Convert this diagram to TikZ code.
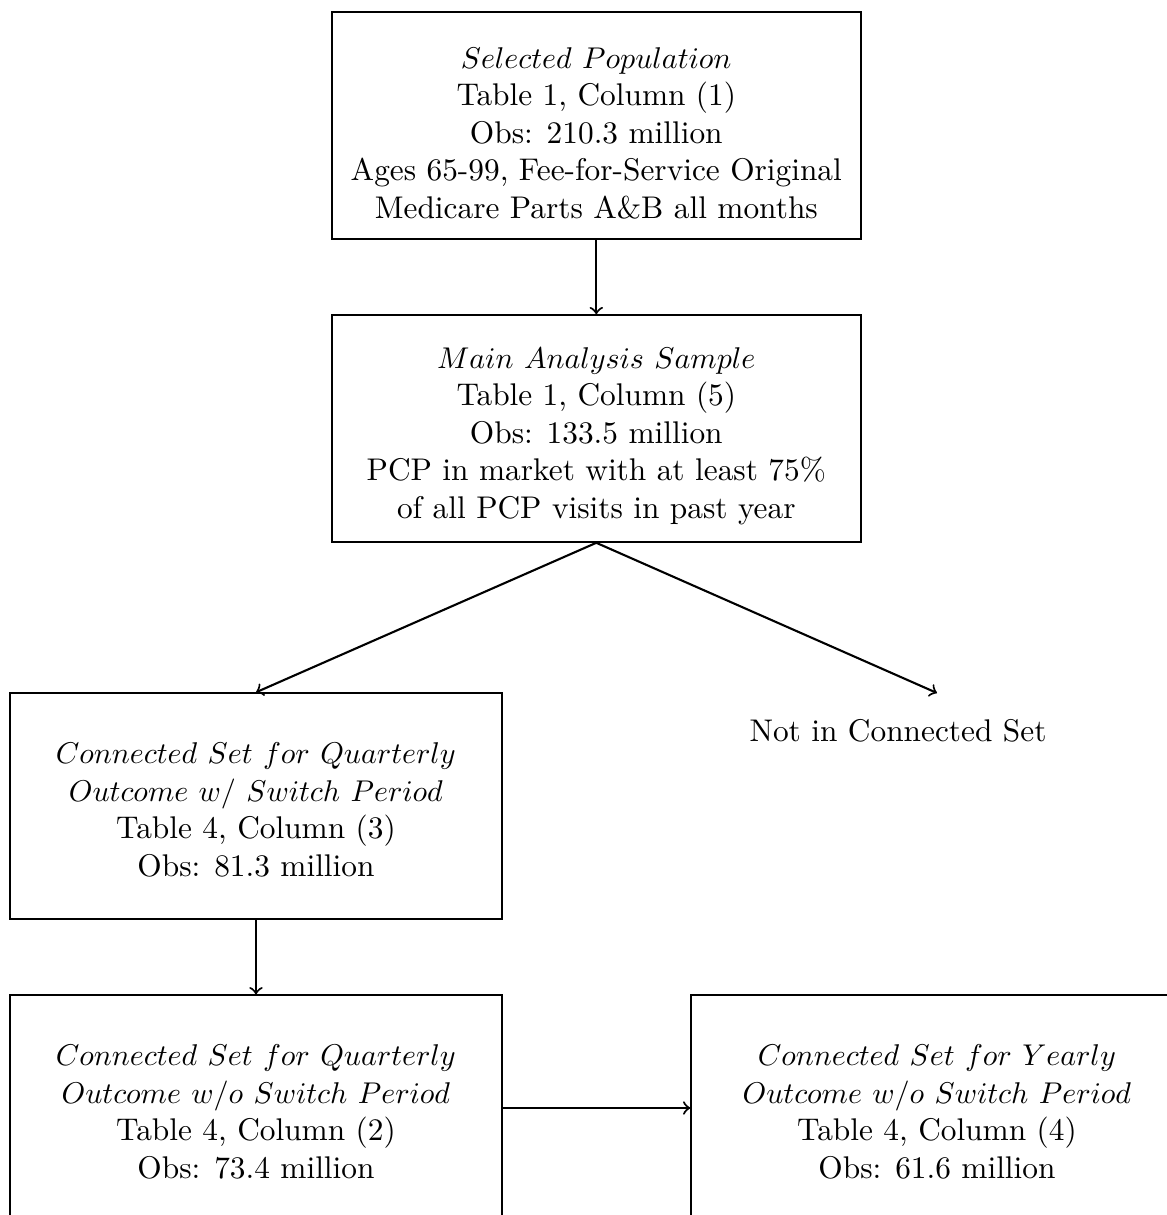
\documentclass[tikz,border=0pt]{standalone}
\newcommand{\fcBigTop}{\rule{0pt}{11.9pt}}
\newcommand{\fcSmallTop}{\rule{0pt}{9.4pt}}
\begin{document}
\begin{tikzpicture}[x=0.33333pt,y=-0.33333pt,
  every node/.style={font=\fontsize{10.45pt}{12.5pt}\selectfont},
  bigbox/.style={draw, line width=0.5pt, align=center, minimum width=176.3pt, minimum height=75.7pt, inner sep=0pt},
  smallbox/.style={draw, line width=0.5pt, align=center, minimum width=164pt, minimum height=75.3pt, inner sep=0pt},
  plain/.style={align=center, inner sep=0pt},
  conn/.style={->, line width=0.7pt}]
\useasboundingbox (0,0) rectangle (1167,1215);
\node[bigbox] (sel) at (596.3,125.6) {\fcBigTop$Selected\ Population$\\Table 1, Column (1)\\Obs: 210.3 million\\Ages 65-99, Fee-for-Service Original\\Medicare Parts A\&B all months};
\node[bigbox] (main) at (596.3,428.5) {\fcBigTop$Main\ Analysis\ Sample$\\Table 1, Column (5)\\Obs: 133.5 million\\PCP in market with at least 75\%\\of all PCP visits in past year};
\node[smallbox] (qsw) at (256,806) {\fcSmallTop$Connected\ Set\ for\ Quarterly$\\$Outcome\ w/\ Switch\ Period$\\Table 4, Column (3)\\Obs: 81.3 million};
\coordinate (notintop) at (937,693);
\node[plain] (notin) at (898,731) {Not in Connected Set};
\node[smallbox] (qno) at (256,1108) {\fcSmallTop$Connected\ Set\ for\ Quarterly$\\$Outcome\ w/o\ Switch\ Period$\\Table 4, Column (2)\\Obs: 73.4 million};
\node[smallbox] (yno) at (937,1108) {\fcSmallTop$Connected\ Set\ for\ Yearly$\\$Outcome\ w/o\ Switch\ Period$\\Table 4, Column (4)\\Obs: 61.6 million};
\draw[conn] (sel.south) -- (main.north);
\draw[conn] (main.south) -- (qsw.north);
\draw[conn] (main.south) -- (notintop);
\draw[conn] (qsw.south) -- (qno.north);
\draw[conn] (qno.east) -- (yno.west);
\end{tikzpicture}
\end{document}
